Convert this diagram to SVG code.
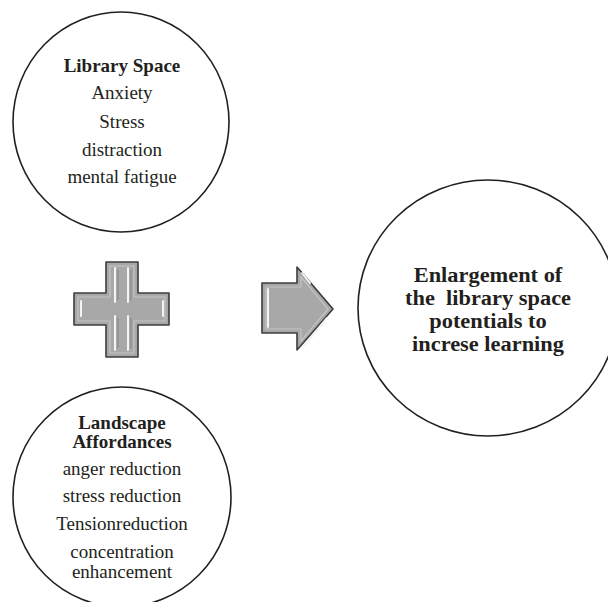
<svg xmlns="http://www.w3.org/2000/svg" width="608" height="602" viewBox="0 0 608 602">
<style>
.c{fill:#fff;stroke:#231f20;stroke-width:1.6}
.t{font-family:"Liberation Serif","Times New Roman",serif;fill:#231f20;text-anchor:middle}
.b{font-weight:bold}
.s19{font-size:19px}
.s20{font-size:20px}
.shape{fill:#a8a8a8;stroke:#3c3c3c;stroke-width:1.6;stroke-linejoin:round}
.inner{fill:none;stroke:#c4c4c4;stroke-width:1.2}
.hl{stroke:#f4f4f4;stroke-width:2;stroke-linecap:round;fill:none}
.sh{stroke:#8a8a8a;stroke-width:1.2;fill:none}
</style>
<rect width="608" height="602" fill="#fff"/>
<g id="library-space">
<ellipse class="c" cx="121" cy="122" rx="108" ry="110"/>
<text class="t b s19" x="122" y="72">Library Space</text>
<text class="t s19" x="122" y="99">Anxiety</text>
<text class="t s19" x="122" y="128">Stress</text>
<text class="t s19" x="122" y="156">distraction</text>
<text class="t s19" x="122" y="183">mental fatigue</text>
</g>
<g id="landscape-affordances">
<ellipse class="c" cx="122" cy="497" rx="109" ry="110"/>
<text class="t b s19" x="122" y="429">Landscape</text>
<text class="t b s19" x="122" y="448">Affordances</text>
<text class="t s19" x="122" y="475">anger reduction</text>
<text class="t s19" x="122" y="502">stress reduction</text>
<text class="t s19" x="122" y="530">Tensionreduction</text>
<text class="t s19" x="122" y="558">concentration</text>
<text class="t s19" x="122" y="578">enhancement</text>
</g>
<g id="outcome">
<ellipse class="c" cx="488" cy="308" rx="130" ry="128"/>
<g transform="translate(488,0) scale(1.12,1)">
<text class="t b s20" x="0" y="282">Enlargement of</text>
<text class="t b s20" x="0" y="305" xml:space="preserve">the  library space</text>
<text class="t b s20" x="0" y="328">potentials to</text>
<text class="t b s20" x="0" y="351">increse learning</text>
</g>
</g>
<g id="connectors">
<g id="plus">
<path class="shape" d="M106,262 H138 V293 H169 V325 H138 V357 H106 V325 H74 V293 H106 Z"/>
<path class="inner" d="M110,266 H134 V297 H165 V321 H134 V353 H110 V321 H78 V297 H110 Z"/>
<path class="hl" d="M115,268 V302 M115,316 V350 M128,268 V302 M128,316 V350 M81,301 V316 M163,301 V316"/>
<path class="sh" d="M118,270 V300 M118,318 V348 M131,270 V300 M131,318 V348"/>
</g>
<g id="arrow">
<path class="shape" d="M262,283 H297 V267 L333,309 L297,350 V333 H262 Z"/>
<path class="inner" d="M266,287 H301 V277 L328,309 L301,341 V329 H266 Z"/>
<path class="hl" d="M268,289 V327 M304,346 L327,318 M302,273 L310,283"/>
</g>
</g>
</svg>
